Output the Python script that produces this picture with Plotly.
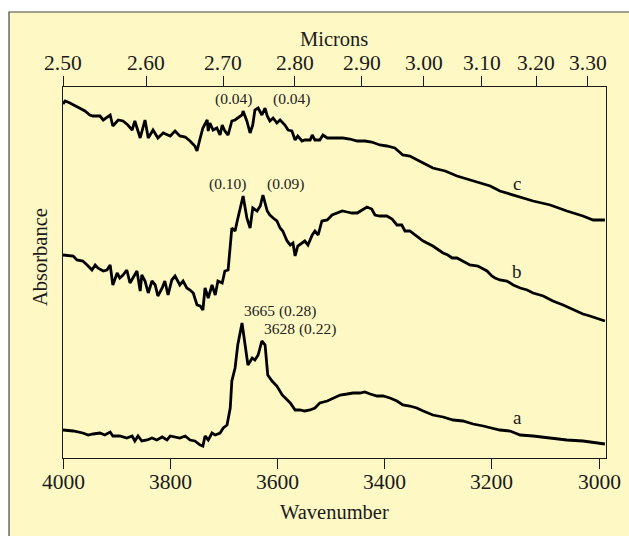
import plotly.graph_objects as go

# ---------------- data ----------------
wn_a = [4000, 3981, 3963, 3953, 3944, 3931, 3922, 3912, 3907, 3894, 3881, 3871, 3866, 3860, 3853,
        3843, 3834, 3825, 3815, 3806, 3800, 3791, 3782, 3772, 3763, 3754, 3744, 3739, 3735, 3729,
        3722, 3716, 3707, 3701, 3694, 3688, 3685, 3679, 3674, 3666, 3660, 3655, 3647, 3642, 3636,
        3629, 3623, 3618, 3610, 3601, 3591, 3586, 3576, 3567, 3558, 3549, 3539, 3530, 3521, 3507,
        3496, 3483, 3470, 3459, 3446, 3437, 3427, 3414, 3403, 3390, 3377, 3366, 3353, 3340, 3328,
        3310, 3291, 3272, 3254, 3235, 3216, 3203, 3185, 3166, 3147, 3123, 3091, 3060, 3030, 3004, 2989]
abs_a = [0.028, 0.027, 0.025, 0.023, 0.024, 0.025, 0.023, 0.026, 0.022, 0.022, 0.020, 0.022, 0.017, 0.022, 0.017,
         0.018, 0.020, 0.018, 0.021, 0.018, 0.022, 0.021, 0.020, 0.022, 0.018, 0.017, 0.013, 0.012, 0.022, 0.018,
         0.025, 0.023, 0.025, 0.030, 0.033, 0.050, 0.077, 0.090, 0.113, 0.135, 0.110, 0.093, 0.100, 0.098, 0.103,
         0.117, 0.113, 0.083, 0.077, 0.072, 0.063, 0.060, 0.055, 0.048, 0.048, 0.047, 0.048, 0.050, 0.055, 0.057,
         0.060, 0.063, 0.064, 0.065, 0.065, 0.066, 0.064, 0.062, 0.062, 0.060, 0.057, 0.053, 0.052, 0.050, 0.047,
         0.043, 0.041, 0.038, 0.037, 0.034, 0.032, 0.030, 0.028, 0.027, 0.023, 0.022, 0.020, 0.018, 0.017, 0.015, 0.014]

wn_b = [4000, 3981, 3974, 3963, 3955, 3946, 3940, 3935, 3925, 3918, 3912, 3907, 3899, 3894, 3888,
        3881, 3875, 3869, 3862, 3856, 3853, 3847, 3841, 3834, 3828, 3823, 3815, 3810, 3804, 3797,
        3791, 3782, 3776, 3769, 3763, 3757, 3750, 3744, 3739, 3735, 3729, 3722, 3716, 3711, 3703,
        3698, 3692, 3685, 3679, 3675, 3670, 3664, 3657, 3651, 3646, 3638, 3632, 3627, 3619, 3614,
        3608, 3601, 3595, 3590, 3582, 3576, 3571, 3567, 3562, 3554, 3549, 3543, 3535, 3530, 3524,
        3517, 3507, 3498, 3489, 3479, 3470, 3461, 3451, 3442, 3433, 3424, 3418, 3409, 3396, 3386,
        3377, 3368, 3362, 3353, 3343, 3328, 3310, 3291, 3282, 3274, 3265, 3254, 3241, 3226, 3209,
        3200, 3194, 3185, 3172, 3160, 3147, 3134, 3123, 3104, 3086, 3067, 3048, 3030, 3017, 3004, 2989]
abs_b = [0.203, 0.202, 0.198, 0.197, 0.193, 0.188, 0.193, 0.190, 0.187, 0.188, 0.193, 0.173, 0.185, 0.180, 0.183,
         0.188, 0.175, 0.180, 0.187, 0.167, 0.183, 0.177, 0.165, 0.177, 0.173, 0.162, 0.170, 0.177, 0.163, 0.178,
         0.182, 0.173, 0.177, 0.170, 0.168, 0.165, 0.153, 0.152, 0.148, 0.170, 0.160, 0.173, 0.163, 0.177, 0.175,
         0.187, 0.188, 0.230, 0.227, 0.237, 0.250, 0.262, 0.240, 0.230, 0.250, 0.247, 0.252, 0.263, 0.247, 0.243,
         0.240, 0.237, 0.230, 0.227, 0.217, 0.213, 0.215, 0.202, 0.212, 0.215, 0.217, 0.213, 0.223, 0.227, 0.223,
         0.237, 0.238, 0.243, 0.245, 0.247, 0.246, 0.245, 0.245, 0.248, 0.251, 0.249, 0.243, 0.242, 0.242, 0.239,
         0.233, 0.233, 0.227, 0.227, 0.223, 0.217, 0.212, 0.205, 0.203, 0.200, 0.200, 0.197, 0.193, 0.192, 0.187,
         0.182, 0.180, 0.178, 0.177, 0.173, 0.170, 0.168, 0.165, 0.162, 0.157, 0.153, 0.148, 0.144, 0.142, 0.140, 0.137]

wn_c = [4000, 3996, 3987, 3968, 3959, 3950, 3944, 3931, 3925, 3912, 3907, 3897, 3888, 3879, 3871,
        3866, 3856, 3847, 3841, 3832, 3823, 3813, 3800, 3791, 3782, 3772, 3763, 3754, 3750, 3744,
        3739, 3731, 3729, 3726, 3720, 3713, 3707, 3703, 3698, 3692, 3685, 3679, 3674, 3666, 3664,
        3657, 3651, 3646, 3642, 3636, 3629, 3623, 3619, 3614, 3608, 3601, 3595, 3586, 3580, 3573,
        3567, 3562, 3554, 3549, 3539, 3535, 3530, 3521, 3515, 3507, 3496, 3478, 3465, 3451, 3437,
        3424, 3409, 3396, 3381, 3366, 3353, 3340, 3328, 3310, 3287, 3265, 3241, 3222, 3203, 3185,
        3153, 3123, 3091, 3060, 3030, 3011, 2989]
abs_c = [0.354, 0.357, 0.355, 0.350, 0.347, 0.343, 0.342, 0.342, 0.338, 0.343, 0.332, 0.338, 0.337, 0.333, 0.328,
         0.337, 0.320, 0.338, 0.320, 0.328, 0.320, 0.325, 0.322, 0.327, 0.322, 0.321, 0.317, 0.312, 0.307, 0.320,
         0.330, 0.338, 0.327, 0.335, 0.328, 0.330, 0.323, 0.333, 0.327, 0.323, 0.337, 0.338, 0.340, 0.343, 0.347,
         0.337, 0.325, 0.333, 0.348, 0.350, 0.343, 0.350, 0.342, 0.337, 0.340, 0.335, 0.338, 0.333, 0.328, 0.327,
         0.318, 0.322, 0.317, 0.318, 0.318, 0.323, 0.318, 0.318, 0.323, 0.320, 0.320, 0.320, 0.319, 0.317, 0.317,
         0.316, 0.313, 0.312, 0.310, 0.303, 0.302, 0.298, 0.295, 0.290, 0.287, 0.282, 0.278, 0.275, 0.272, 0.267,
         0.262, 0.257, 0.253, 0.247, 0.242, 0.238, 0.238]

wn_ticks = [4000, 3800, 3600, 3400, 3200, 3000]
wn_labels = ["4000", "3800", "3600", "3400", "3200", "3000"]
micron_ticks = [2.50, 2.60, 2.70, 2.80, 2.90, 3.00, 3.10, 3.20, 3.30]
micron_labels = ["2.50", "2.60", "2.70", "2.80", "2.90", "3.00", "3.10", "3.20", "3.30"]

peak_labels = ["(0.04)", "(0.04)", "(0.10)", "(0.09)", "3665 (0.28)", "3628 (0.22)"]
curve_labels = ["a", "b", "c"]

# ---------------- layout helpers ----------------
W, H = 629, 536
ML, MR, MT, MB = 63, 23, 87, 78
PW, PH = W - ML - MR, H - MT - MB
BG = "#FEF8C5"
FONT = "Liberation Serif"
INK = "#1a1a1a"


def px(xp):
    return (xp - ML) / PW


def py(yp):
    return (H - MB - yp) / PH


fig = go.Figure()
for wn, ab in [(wn_a, abs_a), (wn_b, abs_b), (wn_c, abs_c)]:
    fig.add_trace(go.Scatter(x=wn, y=ab, mode="lines",
                             line=dict(color="black", width=2.8), showlegend=False,
                             hoverinfo="skip"))
# invisible trace to anchor the top (microns) axis
fig.add_trace(go.Scatter(x=[4000], y=[0], xaxis="x2", mode="markers",
                         marker=dict(opacity=0), showlegend=False, hoverinfo="skip"))

axis_common = dict(showgrid=False, zeroline=False, showline=True, linecolor=INK, linewidth=1.3,
                   ticks="outside", ticklen=10, tickwidth=1.3, tickcolor=INK,
                   showticklabels=False)

fig.update_layout(
    width=W, height=H,
    margin=dict(l=ML, r=MR, t=MT, b=MB, pad=0),
    paper_bgcolor="white", plot_bgcolor=BG,
    xaxis=dict(range=[4000, 2987], tickvals=wn_ticks, side="bottom", **axis_common),
    xaxis2=dict(range=[4000, 2996.5], overlaying="x", side="top", anchor="y",
                tickvals=[10000 / m for m in micron_ticks], **axis_common),
    yaxis=dict(range=[0, 0.371], showticklabels=False, ticks="", showgrid=False, zeroline=False,
               showline=True, mirror=True, linecolor=INK, linewidth=1.3),
    shapes=[dict(type="rect", xref="paper", yref="paper",
                 x0=px(9), x1=px(W + 20), y0=py(H + 20), y1=py(12),
                 fillcolor=BG, line=dict(color="#444", width=1.2), layer="below")],
)

ann = []
tick_font = dict(family=FONT, size=21.5, color=INK)
for v, t in zip(wn_ticks, wn_labels):
    ann.append(dict(text=t, x=v, xref="x", y=py(482), yref="paper", font=tick_font))
for m, t in zip(micron_ticks, micron_labels):
    ann.append(dict(text=t, x=10000 / m, xref="x2", y=py(63), yref="paper", font=tick_font))

title_font = dict(family=FONT, size=20.5, color=INK)
ann.append(dict(text="Microns", x=px(334), y=py(39), font=title_font))
ann.append(dict(text="Wavenumber", x=px(334), y=py(512), font=title_font))
ann.append(dict(text="Absorbance", x=px(40), y=py(257), textangle=-90, font=title_font))

peak_pos = [(234, 99), (291, 99), (227, 184), (285.5, 184), (280, 311), (300, 329)]
for t, (xx, yy) in zip(peak_labels, peak_pos):
    ann.append(dict(text=t, x=px(xx), y=py(yy), font=dict(family=FONT, size=15.5, color="#222")))

curve_pos = [(517, 417), (517, 271), (517, 183)]
for t, (xx, yy) in zip(curve_labels, curve_pos):
    ann.append(dict(text=t, x=px(xx), y=py(yy), font=dict(family=FONT, size=19, color=INK)))

for a in ann:
    a.setdefault("xref", "paper")
    a.setdefault("yref", "paper")
    a.update(showarrow=False, xanchor="center", yanchor="middle")
fig.update_layout(annotations=ann)

fig.write_html("out.html")
